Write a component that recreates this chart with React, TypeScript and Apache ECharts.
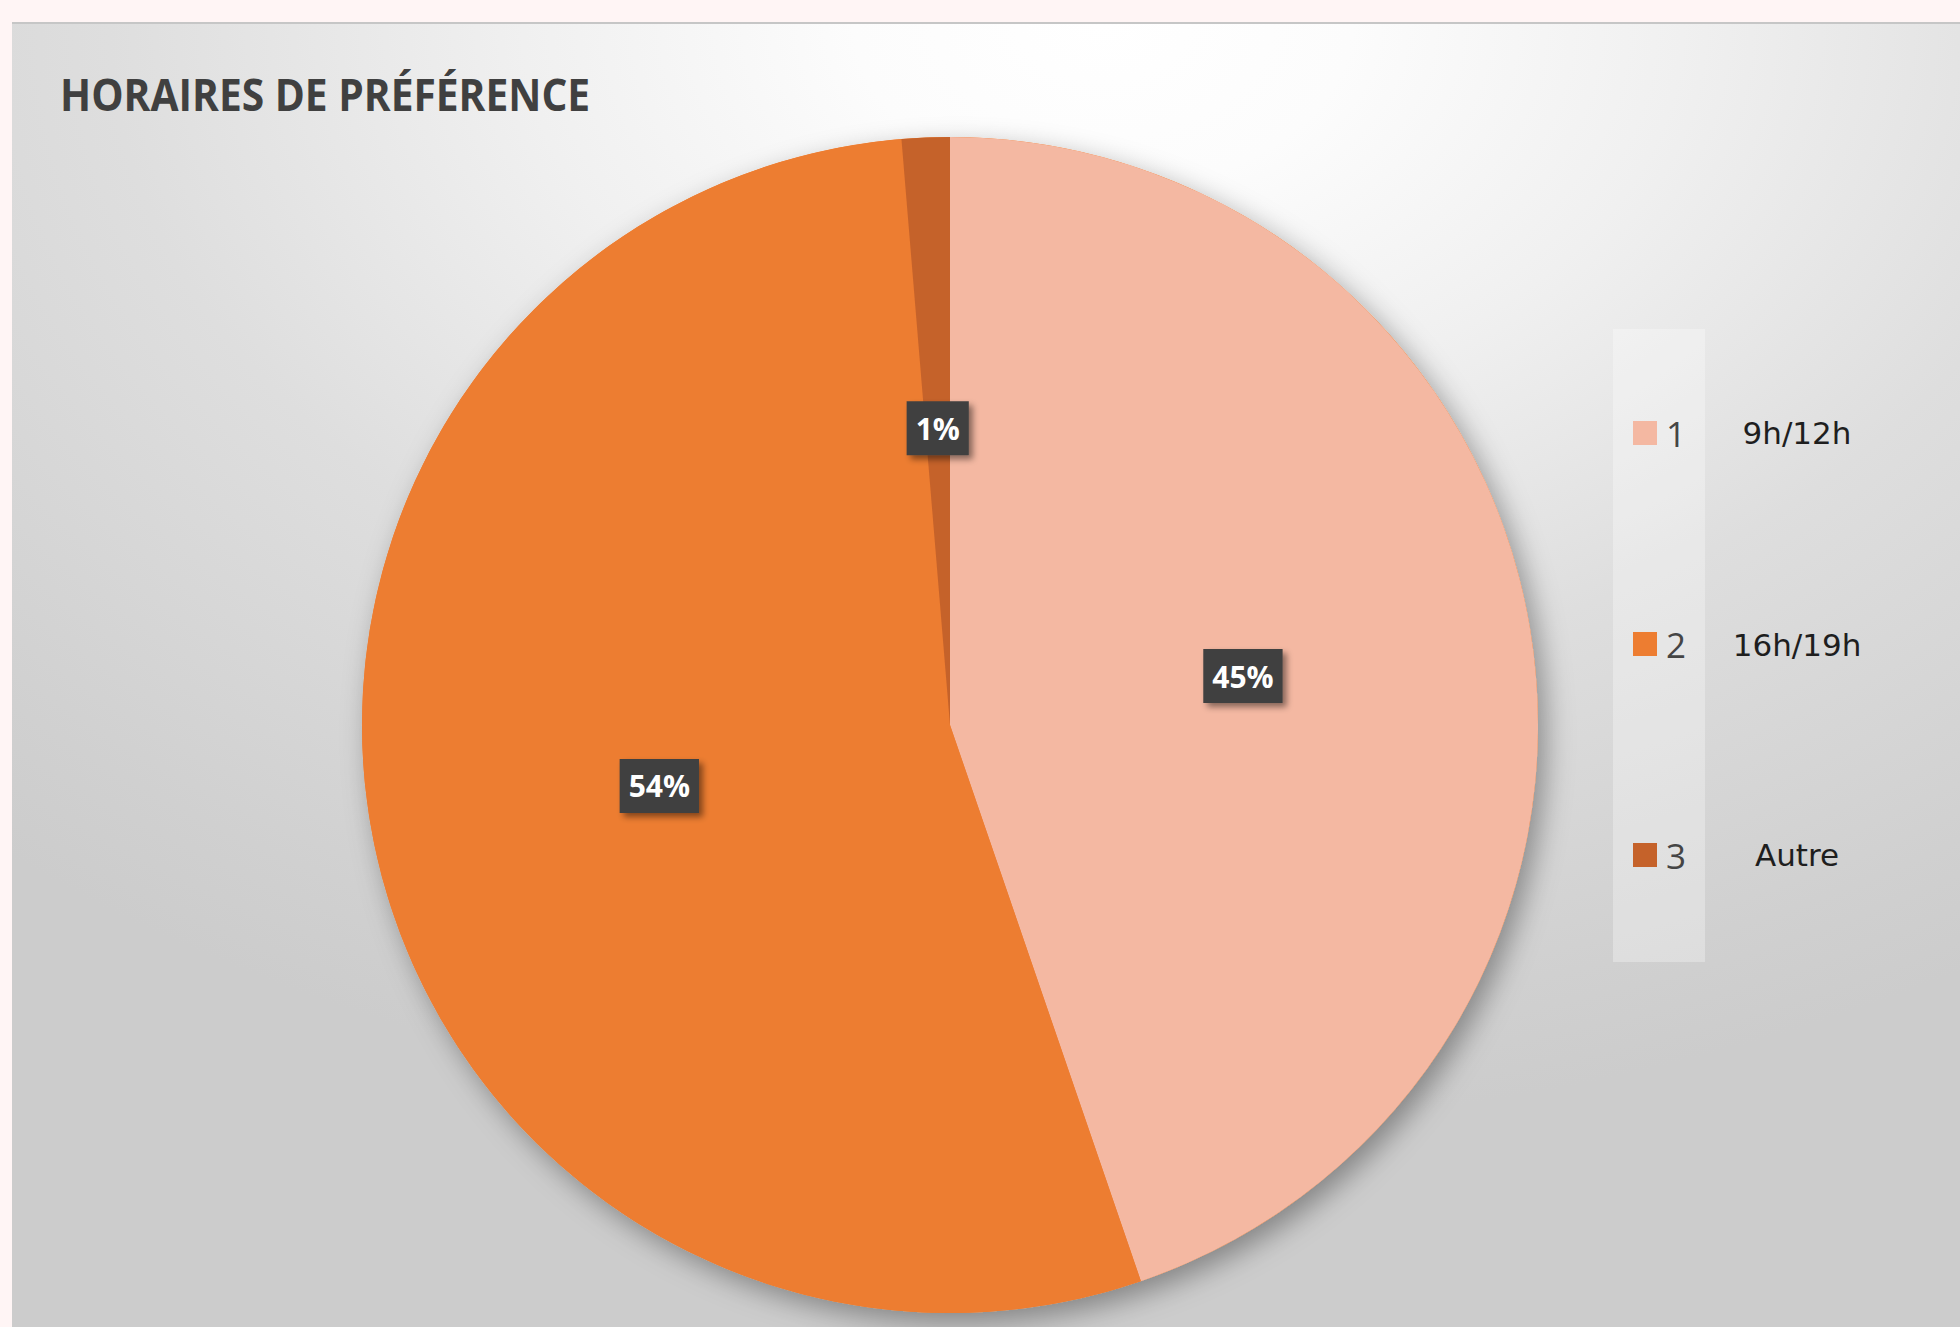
import React, { useEffect, useRef } from "react";
import * as echarts from "echarts";

const categories = ["1", "2", "3"];
const descriptions = ["9h/12h", "16h/19h", "Autre"];
const values = [34, 41, 1];
const colors = ["#F4B8A2", "#ED7D31", "#C5622A"];
const titleText = "HORAIRES DE PRÉFÉRENCE";

export default function App() {
  const ref = useRef<HTMLDivElement>(null);
  useEffect(() => {
    if (!ref.current) return;
    const chart = echarts.init(ref.current, null, { renderer: "svg" });
    const total = values.reduce((a, b) => a + b, 0);
    const descY = [409, 621, 831];
    chart.setOption({
      animation: false,
      backgroundColor: {
        type: "radial",
        x: 0.56,
        y: 0.0,
        r: 0.85,
        colorStops: [
          { offset: 0, color: "#ffffff" },
          { offset: 0.15, color: "#fcfcfc" },
          { offset: 0.35, color: "#f0f0f0" },
          { offset: 0.6, color: "#dedede" },
          { offset: 0.9, color: "#d0d0d0" },
          { offset: 1, color: "#cccccc" },
        ],
      },
      legend: {
        data: categories,
        orient: "vertical",
        left: 1601,
        top: 305,
        padding: [86, 19, 89, 20],
        itemGap: 175,
        itemWidth: 24,
        itemHeight: 24,
        icon: "rect",
        backgroundColor: "rgba(255,255,255,0.3)",
        selectedMode: false,
        textStyle: {
          fontFamily: "Open Sans",
          fontSize: 35,
          lineHeight: 36,
          color: "#454545",
          padding: [0, 0, 0, 4],
        },
      },
      graphic: [
        {
          type: "text",
          x: 48,
          y: 70,
          scaleX: 0.905,
          style: {
            text: titleText,
            fontFamily: "Open Sans",
            fontWeight: "bold",
            fontSize: 45,
            fill: "#404040",
            verticalAlign: "middle",
            align: "left",
          },
        },
        ...descriptions.map((d, i) => ({
          type: "text",
          x: 1785,
          y: descY[i],
          style: {
            text: d,
            fontFamily: "DejaVu Sans",
            fontSize: 31,
            fill: "#1e1e1e",
            align: "center",
            verticalAlign: "middle",
          },
        })),
      ],
      series: [
        {
          type: "pie",
          silent: true,
          center: [938, 701],
          radius: [0, 588],
          z: 1,
          label: { show: false },
          labelLine: { show: false },
          data: [{ value: total, name: "__shadow" }],
          itemStyle: {
            color: "#ED7D31",
            shadowBlur: 28,
            shadowOffsetX: 8,
            shadowOffsetY: 10,
            shadowColor: "rgba(0,0,0,0.35)",
          },
        },
        {
          type: "pie",
          center: [938, 701],
          radius: [0, 588],
          z: 2,
          startAngle: 90,
          clockwise: true,
          percentPrecision: 0,
          data: categories.map((c, i) => ({
            name: c,
            value: values[i],
            itemStyle: { color: colors[i] },
          })),
          itemStyle: { borderWidth: 0 },
          label: {
            show: true,
            position: "inside",
            formatter: "{d}%",
            fontFamily: "Open Sans",
            fontWeight: "bold",
            fontSize: 30,
            lineHeight: 30,
            color: "#ffffff",
            backgroundColor: "#404040",
            padding: [12, 9, 12, 9],
            shadowColor: "rgba(0,0,0,0.45)",
            shadowBlur: 6,
            shadowOffsetX: 4,
            shadowOffsetY: 4,
          },
          labelLine: { show: false },
          emphasis: { disabled: true },
        },
      ],
    });
    return () => chart.dispose();
  }, []);
  return (
    <div
      style={{
        position: "absolute",
        left: 0,
        top: 0,
        width: 1960,
        height: 1327,
        background: "#FFF5F5",
        overflow: "hidden",
      }}
    >
      <div
        style={{
          position: "absolute",
          left: 12,
          top: 22,
          width: 1948,
          height: 2,
          background: "#c6c6c6",
        }}
      />
      <div
        ref={ref}
        style={{ position: "absolute", left: 12, top: 24, width: 1948, height: 1303 }}
      />
    </div>
  );
}
